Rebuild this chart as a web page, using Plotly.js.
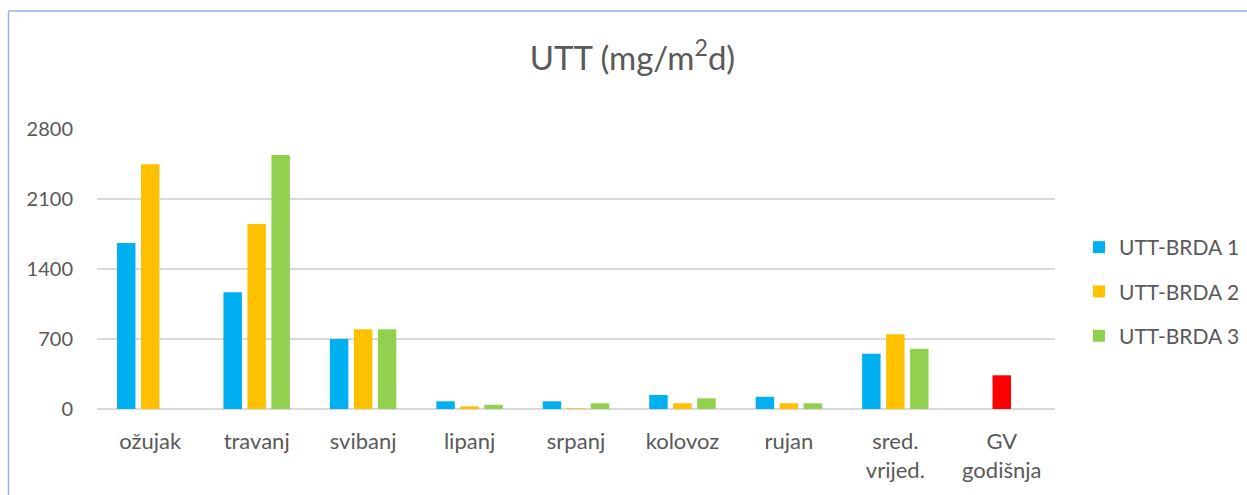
<!DOCTYPE html>
<html>
<head>
<meta charset="utf-8">
<script src="https://cdn.plot.ly/plotly-3.0.1.min.js"></script>
<style>
html,body{margin:0;padding:0;background:#fff;}
#chart{width:1247px;height:495px;}
</style>
</head>
<body>
<div id="chart"></div>
<script>
const categories = ["ožujak", "travanj", "svibanj", "lipanj", "srpanj", "kolovoz", "rujan", "sred.<br>vrijed.", "GV<br>godišnja"];
const brda1 = [1660, 1167, 700, 77, 77, 140, 122, 553, null];
const brda2 = [2447, 1850, 797, 27, 7, 57, 57, 747, 337];
const brda3 = [null, 2540, 797, 42, 57, 107, 57, 603, null];
const seriesNames = ["UTT-BRDA 1", "UTT-BRDA 2", "UTT-BRDA 3"];
const yTicks = [0, 700, 1400, 2100, 2800];

const txt = "#595959";
const fontFam = "Lato, 'Open Sans', sans-serif";
const orangeColors = categories.map((c, i) => i === categories.length - 1 ? "#FF0000" : "#FFC000");

const traces = [
  {type: "bar", name: seriesNames[0], x: categories, y: brda1, marker: {color: "#00B0F0"}, legendgroup: "a"},
  {type: "bar", name: seriesNames[1], x: categories, y: brda2, marker: {color: orangeColors}, legendgroup: "b"},
  {type: "bar", name: seriesNames[2], x: categories, y: brda3, marker: {color: "#92D050"}, legendgroup: "c"}
];

const L = 97, R = 1055, T = 129, B = 409;
const W = R - L, H = B - T;
const px = x => (x - L) / W;
const py = y => (B - y) / H;

const layout = {
  width: 1247, height: 495,
  margin: {l: L, r: 1247 - R, t: T, b: 495 - B, pad: 0, autoexpand: false},
  paper_bgcolor: "#fff", plot_bgcolor: "#fff",
  font: {family: fontFam, color: txt, size: 20},
  title: {text: "UTT (mg/m<sup>2</sup>d)", font: {size: 33, color: txt, family: fontFam}, x: 632.5/1247, xanchor: "center", xref: "container", y: 1 - 58/495, yanchor: "middle", yref: "container"},
  barmode: "group",
  bargap: 0.324,
  bargroupgap: 0.23,
  hovermode: false,
  xaxis: {
    type: "category",
    showgrid: false, zeroline: false, showline: false,
    ticks: "", ticklabelstandoff: 17,
    tickfont: {size: 22, color: txt}
  },
  yaxis: {
    range: [0, 2800],
    tickvals: yTicks, ticktext: yTicks.map(String),
    showgrid: true, gridcolor: "#D9D9D9", gridwidth: 1.5,
    zeroline: true, zerolinecolor: "#D9D9D9", zerolinewidth: 1.5,
    showline: false, ticks: "", ticklabelstandoff: 23,
    tickfont: {size: 20, color: txt}
  },
  showlegend: true,
  legend: {
    x: px(1079), xanchor: "left", y: py(227), yanchor: "top",
    font: {size: 21, color: txt, family: fontFam},
    tracegroupgap: 14, bgcolor: "rgba(0,0,0,0)", traceorder: "grouped",
    itemclick: false
  },
  shapes: [
    {type: "line", xref: "paper", yref: "paper", x0: px(8.5), x1: px(1260), y0: py(11), y1: py(11), line: {color: "#8EB4E3", width: 1.5}},
    {type: "line", xref: "paper", yref: "paper", x0: px(8.5), x1: px(8.5), y0: py(11), y1: py(510), line: {color: "#8EB4E3", width: 1.5}}
  ]
};

Plotly.newPlot("chart", traces, layout, {displayModeBar: false, staticPlot: true});
</script>
</body>
</html>
